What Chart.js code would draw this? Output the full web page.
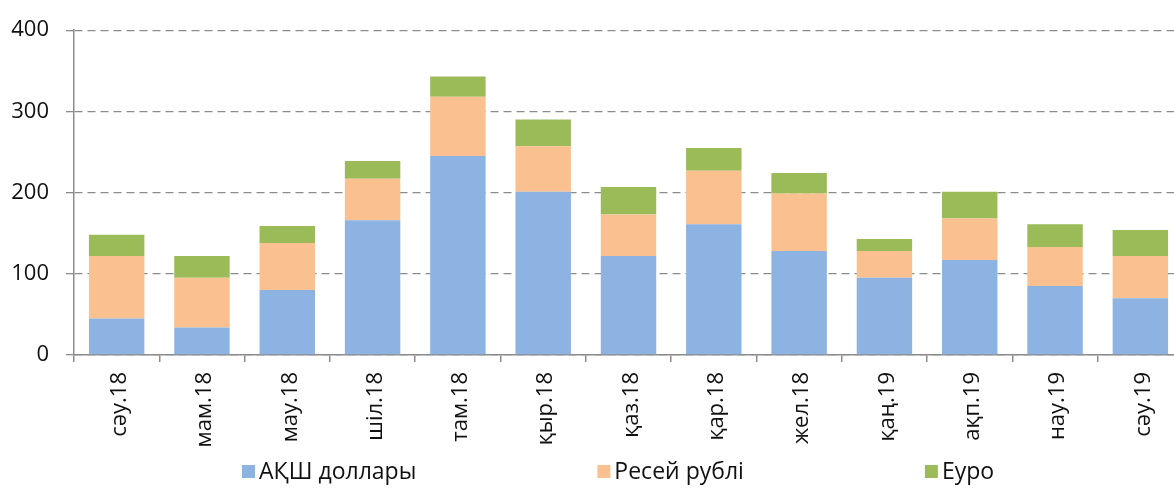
<!DOCTYPE html>
<html>
<head>
<meta charset="utf-8">
<script src="https://cdn.jsdelivr.net/npm/chart.js@4.4.1/dist/chart.umd.min.js"></script>
<style>
  html, body { margin: 0; padding: 0; background: #fff; overflow: hidden; }
  #wrap { position: relative; width: 1186px; height: 488px; }
</style>
</head>
<body>
<div id="wrap"><canvas id="chart"></canvas></div>
<script>
// Months
const months = ["сәу.18", "мам.18", "мау.18", "шіл.18", "там.18", "қыр.18", "қаз.18",
                "қар.18", "жел.18", "қаң.19", "ақп.19", "нау.19", "сәу.19"];

// Series values
const usd  = [45, 34, 80, 166, 245, 201, 122, 161, 128, 95, 117, 85, 70];
const rub  = [77, 61, 58, 51, 73, 56, 51, 66, 71, 33, 51, 48, 52];
const euro = [26, 27, 21, 22, 25, 33, 34, 28, 25, 15, 33, 28, 32];

const seriesNames = ["АҚШ доллары", "Ресей рублі", "Еуро"];
const yTicks = [0, 100, 200, 300, 400];

const font = "'Open Sans', 'Noto Sans', sans-serif";
const axisGray = "#8c8c8c";
const textColor = "#111";

// legend drawn by hand: Excel spaces the items with equal gaps
const bottomLegend = {
  id: "bottomLegend",
  afterDraw(chart) {
    const ctx = chart.ctx;
    const box = 13, gap = 181;
    let x = 242;
    const y = chart.height - 10;
    ctx.save();
    ctx.font = "23px " + font;
    ctx.textBaseline = "alphabetic";
    chart.data.datasets.forEach(ds => {
      ctx.fillStyle = ds.backgroundColor;
      ctx.fillRect(x, y - box, box, box);
      ctx.fillStyle = textColor;
      ctx.fillText(ds.label, x + box + 4, y + 1);
      x += box + 4 + ctx.measureText(ds.label).width + gap;
    });
    ctx.restore();
  }
};

new Chart(document.getElementById("chart"), {
  type: "bar",
  data: {
    labels: months,
    datasets: [
      { label: seriesNames[0], data: usd,  backgroundColor: "#8db3e2" },
      { label: seriesNames[1], data: rub,  backgroundColor: "#fac090" },
      { label: seriesNames[2], data: euro, backgroundColor: "#9bbb59" }
    ]
  },
  plugins: [bottomLegend],
  options: {
    responsive: true,
    maintainAspectRatio: false,
    animation: false,
    datasets: { bar: { categoryPercentage: 1, barPercentage: 0.65 } },
    layout: { padding: { left: 10, right: 3, top: 25, bottom: 33 } },
    plugins: {
      tooltip: { enabled: false },
      legend: { display: false }
    },
    scales: {
      x: {
        stacked: true,
        afterFit: axis => { axis.height = 100; },
        grid: { display: true, drawOnChartArea: false, drawTicks: true, tickLength: 7, color: axisGray, lineWidth: 1.5 },
        border: { display: true, color: axisGray, width: 1.5 },
        ticks: {
          minRotation: 90, maxRotation: 90, padding: 10, labelOffset: 3,
          color: textColor,
          font: { family: font, size: 22 }
        }
      },
      y: {
        stacked: true,
        min: yTicks[0], max: yTicks[yTicks.length - 1],
        afterBuildTicks: axis => { axis.ticks = yTicks.map(v => ({ value: v })); },
        afterFit: axis => { axis.width = 64; },
        grid: { color: axisGray, lineWidth: 1.3, tickLength: 8 },
        border: { display: true, color: axisGray, width: 1.5, dash: [8, 5] },
        ticks: {
          padding: 17,
          color: textColor,
          font: { family: font, size: 22 }
        }
      }
    }
  }
});
</script>
</body>
</html>
